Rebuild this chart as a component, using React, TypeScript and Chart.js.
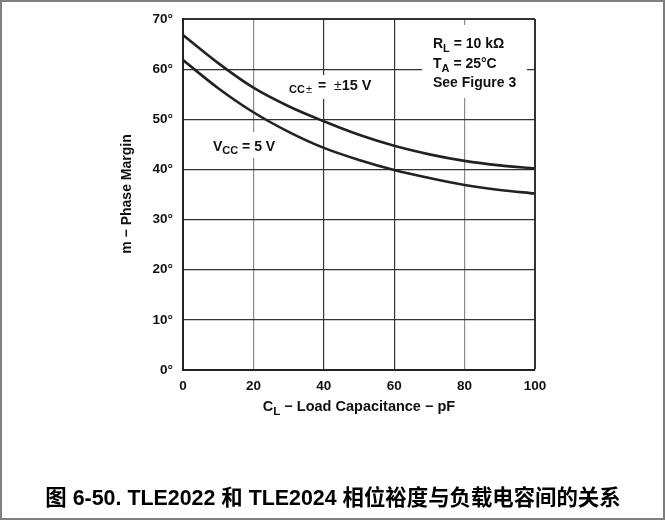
import React, { useEffect, useRef } from 'react';
import { Chart, registerables } from 'chart.js';

Chart.register(...registerables);

const capacitance = [0, 10, 20, 30, 40, 50, 60, 70, 80, 90, 100];
const phase15V = [66.8, 61.2, 56.3, 52.6, 49.6, 46.9, 44.7, 43.0, 41.7, 40.8, 40.2];
const phase5V = [61.8, 56.2, 51.4, 47.5, 44.3, 41.9, 39.9, 38.3, 36.9, 35.9, 35.2];
const xTickValues = [0, 20, 40, 60, 80, 100];
const yTickValues = [0, 10, 20, 30, 40, 50, 60, 70];

const xTitle = ['C', 'L', ' − Load Capacitance − pF'];
const yTitle = 'm − Phase Margin';
const caption = '图 6-50. TLE2022 和 TLE2024 相位裕度与负载电容间的关系';

const FAM = '"Liberation Sans", Arial, sans-serif';
const CJK = '"Liberation Sans", "Noto Sans CJK SC", sans-serif';

type Seg = { t: string; size: number; dy?: number; bold?: boolean; x?: number };

function drawRich(ctx: CanvasRenderingContext2D, x: number, y: number, segs: Seg[], align: 'left' | 'center' = 'left') {
  let w = 0;
  const widths: number[] = [];
  for (const s of segs) {
    ctx.font = `${s.bold === false ? '' : 'bold '}${s.size}px ${FAM}`;
    const m = ctx.measureText(s.t).width;
    widths.push(m);
    w += m;
  }
  let cx = align === 'center' ? x - w / 2 : x;
  ctx.textAlign = 'left';
  ctx.textBaseline = 'alphabetic';
  segs.forEach((s, i) => {
    if (s.x !== undefined) cx = s.x;
    ctx.font = `${s.bold === false ? '' : 'bold '}${s.size}px ${FAM}`;
    ctx.fillText(s.t, cx, y + (s.dy || 0));
    cx += widths[i];
  });
}

const decorPlugin = {
  id: 'decor',
  beforeDraw(chart: any) {
    const ctx = chart.ctx as CanvasRenderingContext2D;
    ctx.save();
    ctx.fillStyle = '#ffffff';
    ctx.fillRect(0, 0, chart.width, chart.height);
    ctx.strokeStyle = '#808080';
    ctx.lineWidth = 2;
    ctx.strokeRect(1, 1, 663, 518);
    ctx.restore();
  },
  afterDraw(chart: any) {
    const ctx = chart.ctx as CanvasRenderingContext2D;
    ctx.save();
    // white boxes breaking grid lines behind annotations
    ctx.fillStyle = '#ffffff';
    ctx.fillRect(422, 25, 105, 73);
    ctx.fillRect(205, 132, 80, 26);
    ctx.fillRect(285, 75, 95, 24);
    ctx.fillStyle = '#111111';
    // conditions block
    drawRich(ctx, 433, 48, [{ t: 'R', size: 14 }, { t: 'L', size: 11, dy: 4 }, { t: ' = 10 kΩ', size: 14 }]);
    drawRich(ctx, 433, 68, [{ t: 'T', size: 14 }, { t: 'A', size: 11, dy: 4 }, { t: ' = 25°C', size: 14 }]);
    drawRich(ctx, 433, 87, [{ t: 'See Figure 3', size: 14 }]);
    // curve labels
    drawRich(ctx, 289, 93, [
      { t: 'CC', size: 11 },
      { t: '±', size: 11, bold: false, x: 306 },
      { t: '=', size: 14, dy: -3, x: 318 },
      { t: '±', size: 14, dy: -3, bold: false, x: 334 },
      { t: '15 V', size: 14.5, dy: -3 },
    ]);
    drawRich(ctx, 213, 151, [{ t: 'V', size: 14 }, { t: 'CC', size: 11, dy: 3 }, { t: ' = 5 V', size: 14 }]);
    // axis titles
    drawRich(ctx, 359, 411, [
      { t: xTitle[0], size: 14.5 },
      { t: xTitle[1], size: 11.5, dy: 4 },
      { t: xTitle[2], size: 14.5 },
    ], 'center');
    ctx.save();
    ctx.translate(131, 194);
    ctx.rotate(-Math.PI / 2);
    ctx.font = `bold 14px ${FAM}`;
    ctx.textAlign = 'center';
    ctx.textBaseline = 'alphabetic';
    ctx.fillText(yTitle, 0, 0);
    ctx.restore();
    // caption
    ctx.font = `bold 21.4px ${CJK}`;
    ctx.textAlign = 'center';
    ctx.textBaseline = 'alphabetic';
    ctx.fillStyle = '#000000';
    ctx.fillText(caption, 333, 505);
    ctx.restore();
  },
};

export default function App() {
  const ref = useRef<HTMLCanvasElement | null>(null);
  useEffect(() => {
    if (!ref.current) return;
    const chart = new Chart(ref.current, {
      type: 'line',
      data: {
        datasets: [
          {
            label: 'VCC± = ±15 V',
            data: capacitance.map((c, i) => ({ x: c, y: phase15V[i] })),
            borderColor: '#222222',
            borderWidth: 2.6,
            pointRadius: 0,
            cubicInterpolationMode: 'monotone',
          },
          {
            label: 'VCC = 5 V',
            data: capacitance.map((c, i) => ({ x: c, y: phase5V[i] })),
            borderColor: '#222222',
            borderWidth: 2.6,
            pointRadius: 0,
            cubicInterpolationMode: 'monotone',
          },
        ],
      },
      options: {
        responsive: false,
        animation: false,
        devicePixelRatio: 1,
        layout: { padding: { left: 0, right: 131, top: 19, bottom: 0 } },
        plugins: { legend: { display: false }, tooltip: { enabled: false }, title: { display: false } },
        scales: {
          x: {
            type: 'linear',
            min: 0,
            max: 100,
            afterFit: (s: any) => { s.height = 150; },
            afterBuildTicks: (s: any) => { s.ticks = xTickValues.map((v) => ({ value: v })); },
            ticks: { color: '#111', font: { family: FAM, size: 13.5, weight: 'bold' }, padding: 8, maxRotation: 0 },
            grid: {
              drawTicks: false,
              color: (c: any) => (c.tick && (c.tick.value === 20 || c.tick.value === 80) ? '#8a8a8a' : '#333333'),
              lineWidth: (c: any) => (c.tick && c.tick.value === 100 ? 2 : 1.2),
            },
            border: { color: '#222', width: 2 },
          },
          y: {
            type: 'linear',
            min: 0,
            max: 70,
            afterFit: (s: any) => { s.width = 183; },
            afterBuildTicks: (s: any) => { s.ticks = yTickValues.map((v) => ({ value: v })); },
            ticks: {
              color: '#111',
              font: { family: FAM, size: 13.5, weight: 'bold' },
              padding: 10,
              callback: (v: any) => `${v}°`,
            },
            grid: {
              drawTicks: false,
              color: '#333333',
              lineWidth: (c: any) => (c.tick && c.tick.value === 70 ? 2 : 1.2),
            },
            border: { color: '#222', width: 2 },
          },
        },
      },
      plugins: [decorPlugin],
    } as any);
    return () => chart.destroy();
  }, []);
  return (
    <div style={{ position: 'absolute', left: 0, top: 0, width: 666, height: 520 }}>
      <canvas ref={ref} width={666} height={520} style={{ display: 'block', width: 666, height: 520 }} />
    </div>
  );
}
